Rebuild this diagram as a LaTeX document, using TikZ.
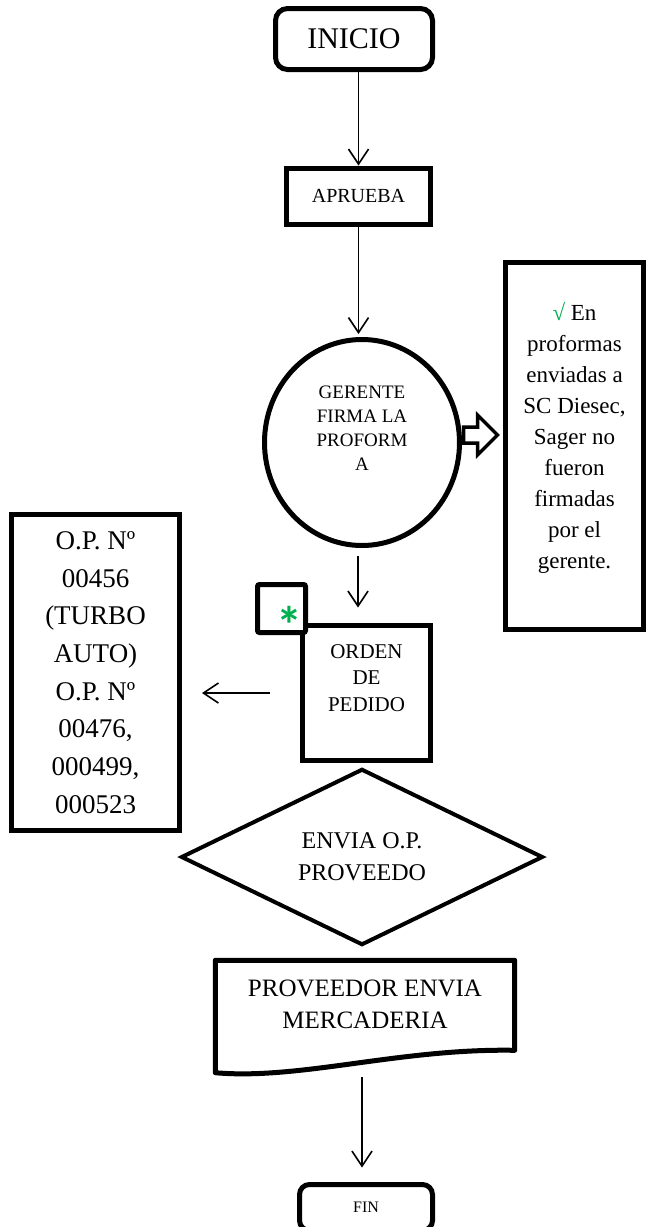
\documentclass[tikz,border=0pt]{standalone}
\usepackage{fontspec}
\setmainfont{Liberation Serif}
\newfontfamily\markfont{Carlito}
\usetikzlibrary{shapes.geometric,arrows.meta,calc}
\definecolor{okgreen}{HTML}{00B050}

\begin{document}
\begin{tikzpicture}[x=1pt,y=-1pt,
  thick box/.style={draw,line width=5pt,inner sep=0pt},
  term/.style={thick box,rounded corners=12pt},
  procbox/.style={thick box},
  flow/.style={line width=1.6pt,-{Straight Barb[length=15pt,width=20pt]}},
  txt/.style={align=center,inner sep=0pt},
  ]
\useasboundingbox (0,0) rectangle (648,1227);

% start terminal and first step
\node[term,minimum width=157pt,minimum height=61pt,font=\fontsize{30}{34}\selectfont] (ini) at (354,39) {INICIO};
\node[procbox,minimum width=144pt,minimum height=56pt,font=\fontsize{20}{24}\selectfont] (apr) at (358.5,196) {APRUEBA};

% manager signs the proforma
\node[ellipse,draw,line width=5pt,minimum width=195pt,minimum height=206pt,inner sep=0pt,
  label={[txt,font=\fontsize{19}{24}\selectfont,yshift=14pt]center:{GERENTE\\FIRMA LA\\PROFORM\\A}}] (ger) at (362,442.5) {};

% block arrow to the observation box
\coordinate (ba) at ($(ger.east)+(1.5,-7.5)$);
\draw[line width=3.5pt,fill=white] (ba) -- ++(0,-8) -- ++(14,0) -- ++(0,-12) -- ++(20,20) -- ++(-20,20) -- ++(0,-12) -- ++(-14,0) -- cycle;

\node[procbox,minimum width=138pt,minimum height=367pt,
  label={[txt,font=\fontsize{23}{31}\selectfont,yshift=8pt]center:{{\color{okgreen}√} En\\proformas\\enviadas a\\SC Diesec,\\Sager no\\fueron\\firmadas\\por el\\gerente.}}] (note) at (574.5,446) {};

% purchase orders
\node[procbox,minimum width=168pt,minimum height=316pt,align=center,font=\fontsize{27}{37.7}\selectfont] (ops) at (95.5,672.5)
  {O.P. Nº\\00456\\(TURBO\\AUTO)\\O.P. Nº\\00476,\\000499,\\000523};

\node[procbox,minimum width=128pt,minimum height=135pt,
  label={[txt,font=\fontsize{21}{26.5}\selectfont,yshift=15pt]center:{ORDEN\\DE\\PEDIDO}}] (ord) at (366.5,693) {};

\node[thick box,rounded corners=2pt,fill=white,minimum width=48pt,minimum height=48pt] (star) at (281.5,608.5) {};
\node[text=okgreen,inner sep=0pt,font=\markfont\bfseries\fontsize{52}{52}\selectfont] (starmark) at ($(star.center)+(7.5,16)$) {*};

% send to supplier
\node[diamond,draw,line width=4pt,minimum width=362pt,minimum height=168pt,inner sep=0pt,align=center,font=\fontsize{24}{32}\selectfont] (env) at (362,857) {ENVIA O.P.\\PROVEEDO};

% supplier ships goods (document shape)
\node[minimum width=299pt,minimum height=112pt,inner sep=0pt,
  label={[txt,font=\fontsize{25}{32}\selectfont,yshift=12.5pt]center:{PROVEEDOR ENVIA\\MERCADERIA}}] (doc) at (365,1016.5) {};
\draw[line width=5pt,line join=round] (doc.north west) -- (doc.north east) -- ($(doc.north east)+(0,90)$)
  .. controls ($(doc.south west)+(184.5,-24.5)$) and ($(doc.south west)+(84.5,7.5)$) .. (doc.south west) -- cycle;

\node[term,rounded corners=10pt,minimum width=133pt,minimum height=46pt,font=\fontsize{16}{19}\selectfont] (fin) at (366,1207.5) {FIN};

% connectors
\draw[flow] (apr.north |- ini.south) -- (apr.north);
\draw[flow,shorten >=3pt] (apr.south) -- (apr.south |- ger.north);
\coordinate (gs) at ($(ger.south)+(-4,0)$);
\draw[flow,shorten <=7.5pt,shorten >=15.5pt] (gs) -- (gs |- ord.north);
\draw[flow,shorten <=30pt,shorten >=20pt] (ord.west) -- (ord.west -| ops.east);
\coordinate (ds) at ($(doc.south)+(-3,0)$);
\draw[flow,shorten <=4.5pt,shorten >=14.5pt] (ds) -- (ds |- fin.north);
\end{tikzpicture}
\end{document}
